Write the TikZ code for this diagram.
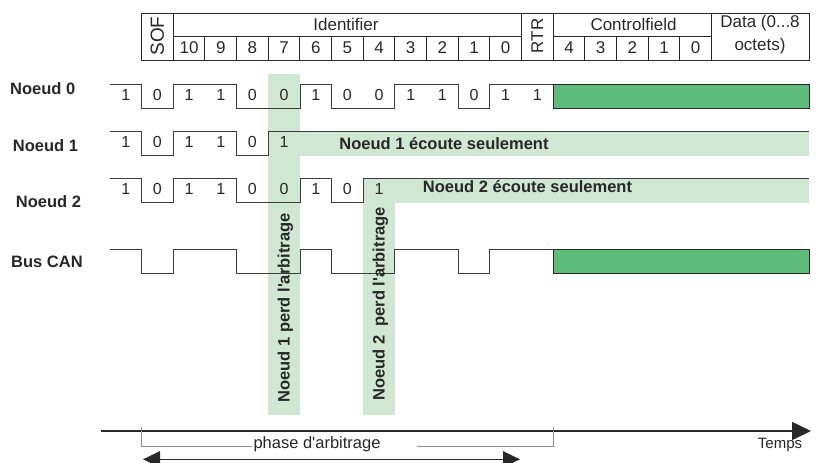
\documentclass[tikz,border=0pt]{standalone}
\usepackage{fontspec}
\setmainfont{Liberation Sans}[Ligatures=TeXOff]
\usetikzlibrary{arrows.meta}
\newcommand\ex[1]{\fpeval{141.6+31.66*(#1)}}
\newcommand\exc[1]{\fpeval{141.6+31.66*(#1)+15.83}}
\definecolor{lgreen}{RGB}{207,231,211}
\definecolor{dgreen}{RGB}{94,188,122}
\definecolor{ink}{RGB}{40,40,40}
\begin{document}
\begin{tikzpicture}[x=1pt,y=-1pt,
  wave/.style={draw=ink!90, line width=0.8pt},
  hline/.style={draw=ink, line width=0.9pt},
  band/.style={fill=lgreen, draw=none},
  dbox/.style={fill=dgreen, draw=ink, line width=0.9pt},
  bitlbl/.style={font=\fontsize{16}{18}\selectfont, text=ink, inner sep=0pt},
  hdr/.style={font=\fontsize{17}{19}\selectfont, text=ink, inner sep=0pt},
  lbl/.style={font=\fontsize{16.5}{18}\selectfont\bfseries, text=ink, inner sep=0pt},
  gline/.style={draw=black!45, line width=0.6pt},
  bigarrow/.style={draw=ink, fill=ink, line width=1.6pt}]
\useasboundingbox (0,0) rectangle (819,463);

% light green bands
\fill[band] (\ex4,74) rectangle (\ex5,414.5);
\fill[band] (\ex5,131) rectangle (809,155.5);
\fill[band] (\ex7,178) rectangle (809,202.5);
\fill[band] (\ex7,202.4) rectangle (\ex8,414.5);

% header table
\draw[hline] (\ex0,13) rectangle (809,60);
\foreach \k in {1,12,13,18} \draw[hline] (\ex{\k},13) -- (\ex{\k},60);
\draw[hline] (\ex1,36) -- (\ex{12},36);
\draw[hline] (\ex{13},36) -- (\ex{18},36);
\foreach \k in {2,...,11,14,15,16,17} \draw[hline] (\ex{\k},36) -- (\ex{\k},60);
\node[hdr, rotate=90, font=\fontsize{19}{21}\selectfont] (sof) at (\exc0,36) {SOF};
\node[hdr, rotate=90] (rtr) at (\exc{12},36) {RTR};
\node[hdr] (ident) at (346,24.5) {Identifier};
\node[hdr] (ctrl) at (633.5,24.5) {Controlfield};
\node[hdr] (data1) at (760,23.5) {Data (0...8};
\node[hdr] (data2) at (760,46.5) {octets)};
\foreach \v [count=\i from 1] in {10,9,8,7,6,5,4,3,2,1,0}
  \node[hdr] (hb\i) at (\exc{\i},48) {\v};
\foreach \v [count=\i from 13] in {4,3,2,1,0}
  \node[hdr] (hc\i) at (\exc{\i},48) {\v};

% Noeud 0
\draw[wave] (110,84) -- (\ex0,84) -- (\ex0,108) -- (\ex1,108) -- (\ex1,84) -- (\ex3,84)
  -- (\ex3,108) -- (\ex5,108) -- (\ex5,84) -- (\ex6,84) -- (\ex6,108) -- (\ex8,108)
  -- (\ex8,84) -- (\ex{10},84) -- (\ex{10},108) -- (\ex{11},108) -- (\ex{11},84) -- (\ex{13},84);
\draw[dbox] (\ex{13},84) rectangle (809,108);
\node[bitlbl] (n0i) at (125.8,94.5) {1};
\foreach \v [count=\i from 0] in {0,1,1,0,0,1,0,0,1,1,0,1,1}
  \node[bitlbl] (n0b\i) at (\exc{\i},94.5) {\v};

% Noeud 1
\draw[wave] (110,131) -- (\ex0,131) -- (\ex0,155) -- (\ex1,155) -- (\ex1,131) -- (\ex3,131)
  -- (\ex3,155) -- (\ex4,155) -- (\ex4,131) -- (809,131);
\node[bitlbl] (n1i) at (125.8,141.5) {1};
\foreach \v [count=\i from 0] in {0,1,1,0,1}
  \node[bitlbl] (n1b\i) at (\exc{\i},141.5) {\v};

% Noeud 2
\draw[wave] (110,178) -- (\ex0,178) -- (\ex0,202) -- (\ex1,202) -- (\ex1,178) -- (\ex3,178)
  -- (\ex3,202) -- (\ex5,202) -- (\ex5,178) -- (\ex6,178) -- (\ex6,202) -- (\ex7,202)
  -- (\ex7,178) -- (809,178);
\node[bitlbl] (n2i) at (125.8,188.5) {1};
\foreach \v [count=\i from 0] in {0,1,1,0,0,1,0,1}
  \node[bitlbl] (n2b\i) at (\exc{\i},188.5) {\v};

% Bus CAN
\draw[wave] (110,249) -- (\ex0,249) -- (\ex0,273) -- (\ex1,273) -- (\ex1,249) -- (\ex3,249)
  -- (\ex3,273) -- (\ex5,273) -- (\ex5,249) -- (\ex6,249) -- (\ex6,273) -- (\ex8,273)
  -- (\ex8,249) -- (\ex{10},249) -- (\ex{10},273) -- (\ex{11},273) -- (\ex{11},249) -- (\ex{13},249);
\draw[dbox] (\ex{13},249) rectangle (809,273);

% row labels
\node[lbl, anchor=west] (r0) at (10,89) {Noeud 0};
\node[lbl, anchor=west] (r1) at (12.7,145.7) {Noeud 1};
\node[lbl, anchor=west] (r2) at (15.7,201.7) {Noeud 2};
\node[lbl, anchor=west] (rb) at (11,261.7) {Bus CAN};

% band texts
\node[lbl] (e1txt) at (444,143.5) {Noeud 1 écoute seulement};
\node[lbl] (e2txt) at (527.5,187) {Noeud 2 écoute seulement};
\node[lbl, rotate=90] (p1txt) at (285.5,308) {Noeud 1 perd l'arbitrage};
\node[lbl, rotate=90] (p2txt) at (380.5,304) {Noeud 2\ \ perd l'arbitrage};

% time axis
\coordinate (axs) at (101,431);
\coordinate (axe) at (811,431);
\draw[bigarrow, -{Triangle[length=19pt,width=18pt]}] (axs) -- (axe);
\node[font=\fontsize{15}{17}\selectfont, text=ink, inner sep=0pt] (temps) at (780,444.5) {Temps};

% arbitration phase
\coordinate (t1a) at (\ex0,427);
\coordinate (t1b) at (\ex0,447);
\coordinate (t2a) at (\ex{13},427);
\coordinate (t2b) at (\ex{13},447);
\draw[gline] (t1a) -- (t1b);
\draw[gline] (t2a) -- (t2b);
\node[font=\fontsize{16.5}{18}\selectfont, text=ink, inner sep=0pt] (phase) at (317,444.5) {phase d'arbitrage};
\coordinate (g1) at (\ex0,446);
\coordinate (g2) at (252,446);
\coordinate (g3) at (417,446);
\coordinate (g4) at (\ex{13},446);
\draw[gline] (g1) -- (g2);
\draw[gline] (g3) -- (g4);
\coordinate (pa) at (143,459.3);
\coordinate (pb) at (520,459.3);
\draw[bigarrow, {Triangle[length=17pt,width=16pt]}-{Triangle[length=17pt,width=16pt]}] (pa) -- (pb);
\end{tikzpicture}
\end{document}
